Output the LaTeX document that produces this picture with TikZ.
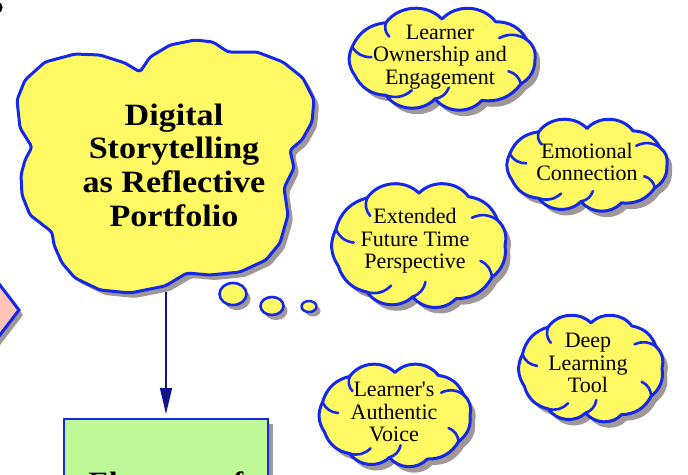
\documentclass[tikz,border=0pt]{standalone}
\usepackage{fontspec}
\setmainfont{Liberation Serif}
\newfontfamily\titlefont[FakeStretch=1.1]{Liberation Serif}
\newfontfamily\cloudfont{Liberation Serif}
\usetikzlibrary{arrows.meta,calc}
\definecolor{cyel}{RGB}{255,250,100}
\definecolor{cblue}{RGB}{20,40,230}
\definecolor{cshadow}{RGB}{160,152,152}
\definecolor{cgreen}{RGB}{190,248,150}
\definecolor{cpink}{RGB}{255,196,184}
\definecolor{cnavy}{RGB}{20,20,140}
\tikzset{
  outl/.style={draw=cblue, line width=3pt, fill=cyel, line join=round},
  hookline/.style={draw=cblue, line width=2.6pt, line cap=round},
  cloudtext/.style={align=center, font=\cloudfont\fontsize{22}{22.5}\selectfont, inner sep=0pt},
}
\newcommand\cloudpath[4]{%
  ({#1+#3},{#2})
  \foreach \a/\f/\b in {32/1/30, 64/0.98/30, 95/0.85/50, 128/0.98/50, 160/1/30, 195/1/30, 232/0.98/30, 270/0.85/50, 306/0.98/50, 336/1/30, 360/1/30}
  { to[bend left=\b] ({#1+\f*#3*cos(\a)},{#2+\f*#4*sin(\a)}) } -- cycle}
\newcommand\drawcloud[4]{%
  \fill[cshadow,shift={(5,6)}] \cloudpath{#1}{#2}{#3}{#4};
  \filldraw[outl] \cloudpath{#1}{#2}{#3}{#4};
  \foreach \a/\f in {32/1, 95/0.85, 128/0.98, 195/1, 232/0.98, 336/1}
  { \draw[hookline] ({#1+\f*#3*cos(\a)},{#2+\f*#4*sin(\a)}) to[bend right=30] ({#1+(\f-0.24)*#3*cos(\a-12)},{#2+(\f-0.24)*#4*sin(\a-12)}); }
}
\begin{document}
\begin{tikzpicture}[x=1pt,y=-1pt]
\clip (0,0) rectangle (688,474);
\fill[white] (0,0) rectangle (688,474);
% fragment top-left
\fill[black] (-2,7.5) ellipse [x radius=4.6, y radius=5.5];
% diamond
\fill[cshadow,shift={(4,5)}] (19,310) -- (-20,259) -- (-60,310) -- (-20,361) -- cycle;
\filldraw[fill=cpink,draw=cblue,line width=3pt] (19,310) -- (-20,259) -- (-60,310) -- (-20,361) -- cycle;
% main cloud
\def\maincloud{(32,147) -- (20,128) -- (17,100) -- (25,80) -- (45,62) -- (75,54) -- (100,55) -- (125,63) -- (140,72)
 -- (150,57) -- (170,45) -- (195,40) -- (213,42) -- (228,52)
 -- (257,52) -- (283,62) -- (303,78) -- (314,100) -- (312,122) -- (302,140) -- (290,150)
 -- (294,168) -- (284,188) -- (288,215) -- (280,243) -- (266,260) -- (240,272) -- (210,275) -- (187,273)
 -- (165,286) -- (130,293) -- (100,290) -- (75,278) -- (62,263) -- (54,245) -- (52,232)
 -- (30,215) -- (22,195) -- (21,175) -- (25,160) -- cycle}
\fill[cshadow,rounded corners=3pt,shift={(5,5)}] \maincloud;
\filldraw[outl,rounded corners=3pt] \maincloud;
\node[align=center, inner sep=0pt, font=\titlefont\bfseries\fontsize{31}{33.7}\selectfont] (mainc) at (174,165) {Digital\\Storytelling\\as Reflective\\Portfolio};
\coordinate (mainbottom) at (166,292);
% thought bubbles
\fill[cshadow] (237,299) ellipse [x radius=13.5, y radius=11];
\filldraw[fill=cyel,draw=cblue,line width=2.6pt] (233,294) ellipse [x radius=13.5, y radius=11];
\fill[cshadow] (276,311) ellipse [x radius=11.5, y radius=9];
\filldraw[fill=cyel,draw=cblue,line width=2.6pt] (272,306) ellipse [x radius=11.5, y radius=9];
\fill[cshadow] (313,311) ellipse [x radius=7.5, y radius=5.5];
\filldraw[fill=cyel,draw=cblue,line width=2.4pt] (309,306.5) ellipse [x radius=7.5, y radius=5.5];
% green box
\fill[cshadow] (70,424) rectangle (273,480);
\node[draw=cblue, fill=cgreen, line width=2.4pt, minimum width=204pt, anchor=north, inner xsep=0pt, inner ysep=53pt,
  font=\titlefont\bfseries\fontsize{28}{30}\selectfont] (elements) at (166,418) {Elements of};
\draw[cnavy, line width=1.4pt, -{Triangle[width=12pt,length=26pt]}, shorten >=4pt] (mainbottom) -- (elements.north);
% small clouds
\drawcloud{442}{59}{93}{47}
\node[cloudtext] (own) at (440,57) {Learner\\Ownership and\\Engagement};
\drawcloud{587}{165}{80}{43}
\node[cloudtext] (emo) at (587,162) {Emotional\\Connection};
\drawcloud{419}{245}{86}{61}
\node[cloudtext] (ext) at (415,241) {Extended\\Future Time\\Perspective};
\drawcloud{591}{368}{71}{53}
\node[cloudtext] (deep) at (588,363) {Deep\\Learning\\Tool};
\drawcloud{395}{415}{75}{50}
\node[cloudtext] (voice) at (394,412) {Learner's\\Authentic\\Voice};
\end{tikzpicture}
\end{document}
